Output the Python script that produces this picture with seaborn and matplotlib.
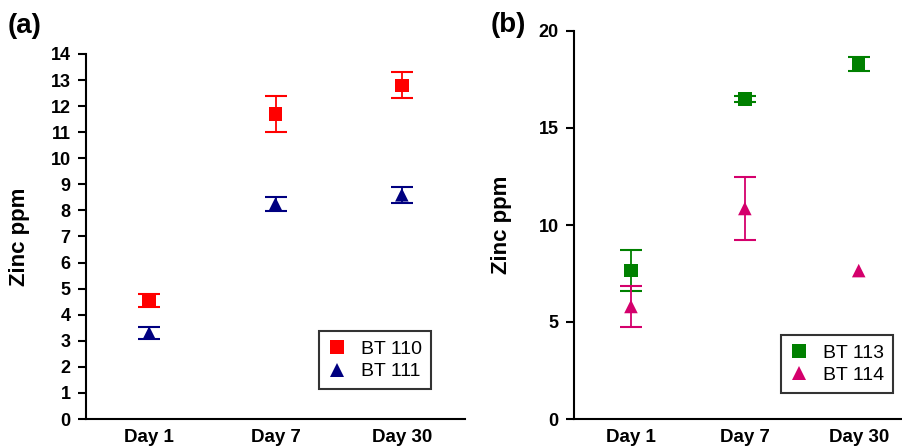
import matplotlib
matplotlib.use("Agg")
import matplotlib.pyplot as plt
import seaborn as sns
import pandas as pd

days = ["Day 1", "Day 7", "Day 30"]

# Panel (a)
bt110 = [4.55, 11.7, 12.8]
bt110_err = [0.25, 0.68, 0.5]
bt111 = [3.3, 8.25, 8.6]
bt111_err = [0.23, 0.27, 0.3]

# Panel (b)
bt113 = [7.65, 16.5, 18.3]
bt113_err = [1.05, 0.15, 0.37]
bt114 = [5.8, 10.85, 7.65]
bt114_err = [1.05, 1.6, 0.0]

sns.set_theme(style="white")
plt.rcParams['font.family'] = ['Liberation Sans', 'DejaVu Sans']
plt.rcParams.update({"text.color": "black", "axes.labelcolor": "black",
                     "xtick.color": "black", "ytick.color": "black"})

fig = plt.figure(figsize=(9.02, 4.48), dpi=100)
axA = fig.add_axes([86/902, 29/448, 379/902, 365/448])
axB = fig.add_axes([574/902, 29/448, 328/902, 388/448])

def draw_err(ax, vals, errs, color):
    xs = [i for i, e in enumerate(errs) if e > 0]
    ys = [vals[i] for i in xs]
    es = [errs[i] for i in xs]
    if xs:
        ax.errorbar(xs, ys, yerr=es, fmt="none", ecolor=color, elinewidth=1.3,
                    capsize=8, capthick=1.5, zorder=2)

def panel(ax, s1, e1, n1, c1, s2, e2, n2, c2):
    df = pd.DataFrame({
        "day": days * 2,
        "zinc": s1 + s2,
        "series": [n1] * 3 + [n2] * 3,
    })
    draw_err(ax, s1, e1, c1)
    draw_err(ax, s2, e2, c2)
    sns.scatterplot(data=df, x="day", y="zinc", hue="series", style="series",
                    markers={n1: "s", n2: "^"}, palette={n1: c1, n2: c2},
                    s=95, linewidth=0, ax=ax, zorder=3)
    for sp in ["top", "right"]:
        ax.spines[sp].set_visible(False)
    for sp in ["left", "bottom"]:
        ax.spines[sp].set_color("black")
        ax.spines[sp].set_linewidth(1.5)
    ax.tick_params(axis="y", which="major", left=True, length=6, width=1.5,
                   direction="out", color="black", labelcolor="black",
                   labelsize=13, pad=5)
    ax.tick_params(axis="x", bottom=False, length=0, labelsize=13.5, pad=7,
                   labelcolor="black")
    ax.set_xlabel("")
    ax.set_ylabel("Zinc ppm", fontsize=16, fontweight="bold", color="black")
    ax.grid(False)

def bold_ticks(ax):
    for lab in ax.get_xticklabels() + ax.get_yticklabels():
        lab.set_fontweight("bold")

def make_legend(ax, anchor):
    leg = ax.legend(loc="lower right", bbox_to_anchor=anchor, borderaxespad=0,
                    fontsize=14, frameon=True, fancybox=False, edgecolor="black",
                    handlelength=0.9, handletextpad=0.8, borderpad=0.45,
                    labelspacing=0.25)
    leg.get_frame().set_linewidth(1.5)
    for t in leg.get_texts():
        t.set_color("black")
    return leg

panel(axA, bt110, bt110_err, "BT 110", "#FF0000", bt111, bt111_err, "BT 111", "#000080")
axA.set_xlim(-0.5, 2.5)
axA.set_ylim(0, 14)
axA.set_yticks(range(0, 15))
bold_ticks(axA)
axA.yaxis.set_label_coords(-0.148, 0.5)
make_legend(axA, (0.91, 0.082))

panel(axB, bt113, bt113_err, "BT 113", "#008000", bt114, bt114_err, "BT 114", "#D4006C")
axB.set_xlim(-0.5, 2.38)
axB.set_ylim(0, 20)
axB.set_yticks(range(0, 21, 5))
bold_ticks(axB)
axB.yaxis.set_label_coords(-0.189, 0.5)
make_legend(axB, (0.973, 0.067))

fig.text(8/902, 1 - 26/448, "(a)", fontsize=20, fontweight="bold", va="center", ha="left")
fig.text(491/902, 1 - 25/448, "(b)", fontsize=20, fontweight="bold", va="center", ha="left")

fig.savefig("out.png", dpi=100)
